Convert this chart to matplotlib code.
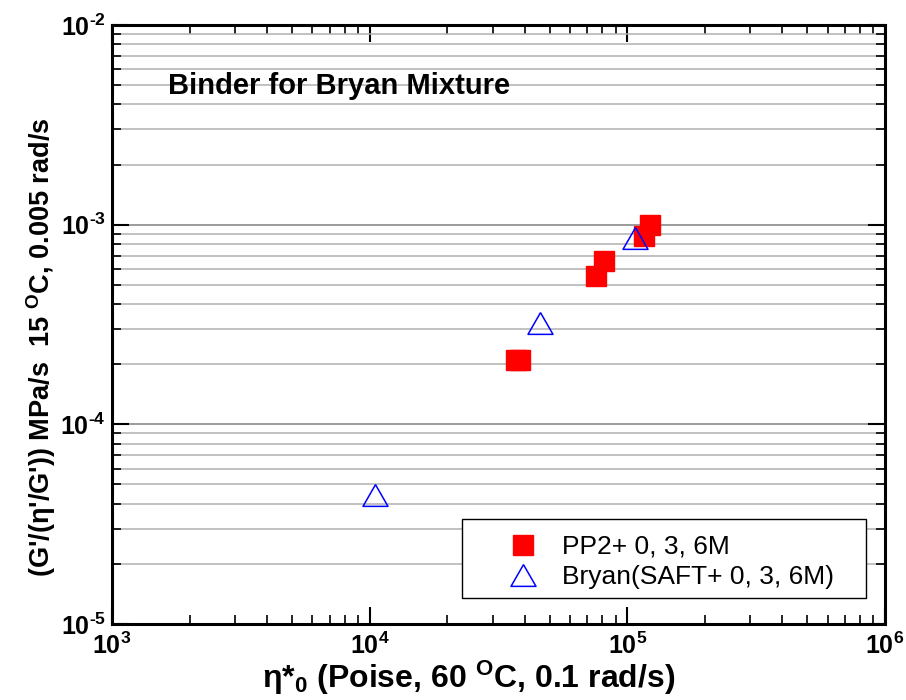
import matplotlib
matplotlib.use('Agg')
import matplotlib.pyplot as plt
from matplotlib.ticker import LogLocator, NullFormatter, FixedLocator, FixedFormatter
from matplotlib.patches import Rectangle

# ---- data ----
pp2_x = [37000, 38200, 75300, 81100, 116300, 122900]
pp2_y = [2.11e-4, 2.11e-4, 5.52e-4, 6.6e-4, 8.8e-4, 1.0e-3]
bryan_x = [10500, 45800, 106700]
bryan_y = [4.45e-5, 3.23e-4, 8.58e-4]

pp2_label = 'PP2+ 0, 3, 6M'
bryan_label = 'Bryan(SAFT+ 0, 3, 6M)'
title_text = 'Binder for Bryan Mixture'

x_major = [1e3, 1e4, 1e5, 1e6]
x_major_labels = [r'$10^{3}$', r'$10^{4}$', r'$10^{5}$', r'$10^{6}$']
y_major = [1e-5, 1e-4, 1e-3, 1e-2]
y_major_labels = ['$10^{\u20105}$', '$10^{\u20104}$', '$10^{\u20103}$', '$10^{\u20102}$']

xlabel_text = r'η*$_{0}$ (Poise, 60 $^{\rm O}$C, 0.1 rad/s)'
ylabel_text = r"(G'/(η'/G')) MPa/s  15 $^{\rm O}$C, 0.005 rad/s"

# ---- style ----
plt.rcParams['font.family'] = ['Liberation Sans', 'DejaVu Sans']
plt.rcParams['mathtext.fontset'] = 'custom'
plt.rcParams['mathtext.rm'] = 'Liberation Sans:bold'
plt.rcParams['mathtext.bf'] = 'Liberation Sans:bold'
plt.rcParams['mathtext.it'] = 'Liberation Sans:bold'
plt.rcParams['mathtext.default'] = 'rm'

fig = plt.figure(figsize=(9.06, 7.0), dpi=100)
ax = fig.add_axes([0.1236, 0.1086, 0.8532, 0.8557])

ax.set_xscale('log')
ax.set_yscale('log')
ax.set_xlim(1e3, 1e6)
ax.set_ylim(1e-5, 1e-2)

ax.xaxis.set_major_locator(FixedLocator(x_major))
ax.xaxis.set_major_formatter(FixedFormatter(x_major_labels))
ax.yaxis.set_major_locator(FixedLocator(y_major))
ax.yaxis.set_major_formatter(FixedFormatter(y_major_labels))
ax.xaxis.set_minor_locator(LogLocator(base=10, subs=range(2, 10)))
ax.yaxis.set_minor_locator(LogLocator(base=10, subs=range(2, 10)))
ax.xaxis.set_minor_formatter(NullFormatter())
ax.yaxis.set_minor_formatter(NullFormatter())

ax.tick_params(which='major', direction='in', length=12, width=1.5,
               top=True, right=True, labelsize=18, color='black')
ax.tick_params(which='minor', direction='in', length=6.5, width=1.2,
               top=True, right=True, color='black')
ax.tick_params(axis='y', which='major', pad=4.5)
ax.tick_params(axis='x', which='major', pad=6)

for s in ax.spines.values():
    s.set_linewidth(2.2)
    s.set_color('black')

ax.set_axisbelow(True)
ax.yaxis.grid(True, which='major', color='#808080', linewidth=1.1)
ax.yaxis.grid(True, which='minor', color='#b0b0b0', linewidth=1.1)
ax.xaxis.grid(False)

tri = [(0, 1), (-1.15, -1), (1.15, -1), (0, 1)]

ax.plot(pp2_x, pp2_y, linestyle='none', marker='s', ms=14, color='#ff0000',
        mec='#ff0000', label=pp2_label, zorder=3)
ax.plot(bryan_x, bryan_y, linestyle='none', marker=tri, ms=18, mfc='none',
        mec='#0000ff', mew=1.1, label=bryan_label, zorder=4)

ax.text(0.0725, 0.885, title_text, transform=ax.transAxes, fontsize=21,
        fontweight='bold', va='baseline', ha='left')

# legend box
ax.add_patch(Rectangle((0.453, 0.043), 0.522, 0.132, transform=ax.transAxes,
                       facecolor='white', edgecolor='black', linewidth=1.0,
                       zorder=5))
leg = ax.legend(loc='upper left', bbox_to_anchor=(0.506, 0.1486), frameon=False,
                fontsize=19, handlelength=1.5, handletextpad=0.73, borderpad=0,
                borderaxespad=0, labelspacing=0.22, numpoints=1)
leg.set_zorder(6)

fig.text(469 / 906, 12 / 700, xlabel_text, fontsize=23, fontweight='bold',
         ha='center', va='baseline')
fig.text(41 / 906, 0.504, ylabel_text, fontsize=19.5, fontweight='bold',
         ha='center', va='center', rotation=90)

fig.savefig('out.png', dpi=100)
